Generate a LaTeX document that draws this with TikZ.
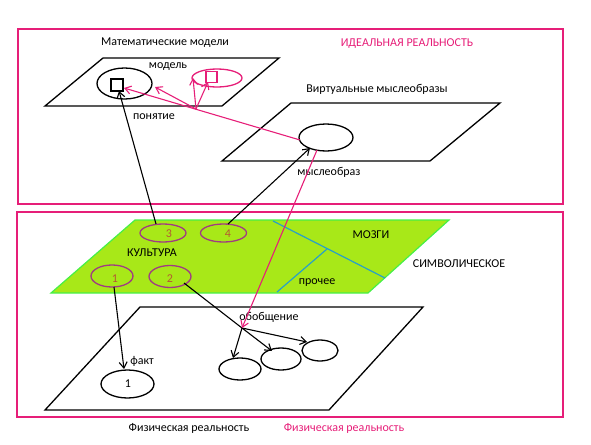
\documentclass[tikz,border=0pt]{standalone}
\usepackage{fontspec}
\setmainfont{Carlito}
\usetikzlibrary{arrows.meta}
\definecolor{pinkc}{RGB}{230,30,120}
\definecolor{greenfill}{RGB}{168,232,24}
\definecolor{greenedge}{RGB}{70,240,70}
\definecolor{bluec}{RGB}{40,160,200}
\definecolor{purpc}{RGB}{160,60,130}
\definecolor{numc}{RGB}{180,90,50}
\tikzset{
  lbl/.style={font=\fontsize{12}{14}\selectfont, inner sep=0pt},
  plane/.style={draw=black, line width=1.3pt},
  cell/.style={draw=purpc, line width=1.3pt},
  blk/.style={draw=black, line width=1.1pt, -{Straight Barb[length=6pt,width=8pt]}},
  pnk/.style={draw=pinkc, line width=1.1pt, -{Straight Barb[length=6pt,width=8pt]}},
  frame/.style={draw=pinkc, line width=1.2pt}
}
\begin{document}
\begin{tikzpicture}[x=1pt,y=-1pt]
\useasboundingbox (0,0) rectangle (591,444);
% frames
\draw[frame] (18,29) rectangle (563,204);
\draw[frame] (17,212) rectangle (563,417);
% planes
\draw[plane] (45,106) -- (222,106) -- (279,58) -- (103,58) -- cycle;
\draw[plane] (222,161) -- (430,161) -- (500,103) -- (291,103) -- cycle;
\draw[plane] (45,410) -- (329,410) -- (423,307) -- (140,307) -- cycle;
\draw[fill=greenfill, draw=greenedge, line width=1.2pt] (51,293) -- (368,293) -- (449,220) -- (135,220) -- cycle;
\draw[bluec, line width=1.2pt] (273,221) -- (385,278);
\draw[bluec, line width=1.2pt] (327,249) -- (277,292);
% labels
\node[lbl] (tmath) at (165,43) {Математические модели};
\node[lbl, text=pinkc] (tideal) at (407,44) {ИДЕАЛЬНАЯ РЕАЛЬНОСТЬ};
\node[lbl] (tvirt) at (377,89) {Виртуальные мыслеобразы};
\node[lbl] (tmodel) at (168,67) {модель};
\node[lbl] (tconcept) at (154,117) {понятие};
\node[lbl] (timage) at (329,172) {мыслеобраз};
\node[lbl] (tcult) at (152,253) {КУЛЬТУРА};
\node[lbl] (tbrain) at (371,235) {МОЗГИ};
\node[lbl] (tsym) at (459,264) {СИМВОЛИЧЕСКОЕ};
\node[lbl] (tother) at (317,283) {прочее};
\node[lbl] (tgen) at (269,317) {обобщение};
\node[lbl] (tfact) at (142,361) {факт};
\node[lbl] (tphys) at (189,428) {Физическая реальность};
\node[lbl, text=pinkc] (tphys2) at (344,428) {Физическая реальность};
% top shapes
\draw[line width=1.3pt] (124.5,83.5) ellipse [x radius=27.5, y radius=15.5];
\node[draw=black, line width=1.3pt, minimum size=12pt, inner sep=0pt] (sq) at (117,85) {};
\draw[pinkc, line width=1.3pt] (217,78) ellipse [x radius=25, y radius=9];
\node[draw=pinkc, line width=1.3pt, minimum size=11pt, inner sep=0pt] (psq) at (211.5,77) {};
\draw[line width=1.3pt] (326,137.5) ellipse [x radius=27, y radius=13.5];
% culture ellipses
\draw[cell] (163,233) ellipse [x radius=23, y radius=9];
\draw[cell] (223.5,233) ellipse [x radius=23, y radius=9];
\draw[cell] (112,276) ellipse [x radius=21, y radius=11];
\draw[cell] (170,276.5) ellipse [x radius=21, y radius=11];
\node[lbl, text=numc] (n3) at (169,234) {3};
\node[lbl, text=numc] (n4) at (228,234) {4};
\node[lbl, text=numc] (n1) at (115,279) {1};
\node[lbl, text=numc] (n2) at (170,279) {2};
% bottom ellipses
\draw[line width=1.3pt] (127.5,384) ellipse [x radius=26.5, y radius=14];
\node[lbl] (nf) at (128,384) {1};
\draw[line width=1.3pt] (240,369) ellipse [x radius=21, y radius=11];
\draw[line width=1.3pt] (281,359) ellipse [x radius=20, y radius=11];
\draw[line width=1.3pt] (320,350.5) ellipse [x radius=18, y radius=10.5];
% coordinates
\coordinate (c3) at (156,224);
\coordinate (c4) at (228,224);
\coordinate (c1) at (114,287);
\coordinate (c2) at (184,283);
\coordinate (sqb) at (119,91);
\coordinate (imgbl) at (310,148);
\coordinate (factt) at (124,369);
\coordinate (gen) at (242,328);
\coordinate (e1t) at (233,358);
\coordinate (e2t) at (272,351);
\coordinate (e3t) at (307,342);
\coordinate (imgb) at (317,150);
\coordinate (imgl) at (300,140);
\coordinate (sqr) at (124,88);
\coordinate (br) at (196,109);
\coordinate (mell) at (155,87);
\coordinate (pell) at (193,78);
\coordinate (psqb) at (208,82);
% black arrows
\draw[blk] (c3) -- (sqb);
\draw[blk] (c4) -- (imgbl);
\draw[blk] (c1) -- (factt);
\draw[line width=1.1pt] (c2) -- (gen);
\draw[blk] (gen) -- (e1t);
\draw[blk] (gen) -- (e2t);
\draw[blk] (gen) -- (e3t);
% pink arrows
\draw[pnk] (imgb) -- (gen);
\draw[pnk] (imgl) -- (sqr);
\draw[pnk] (br) -- (mell);
\draw[pnk] (br) -- (pell);
\draw[pnk] (br) -- (psqb);
\end{tikzpicture}
\end{document}
